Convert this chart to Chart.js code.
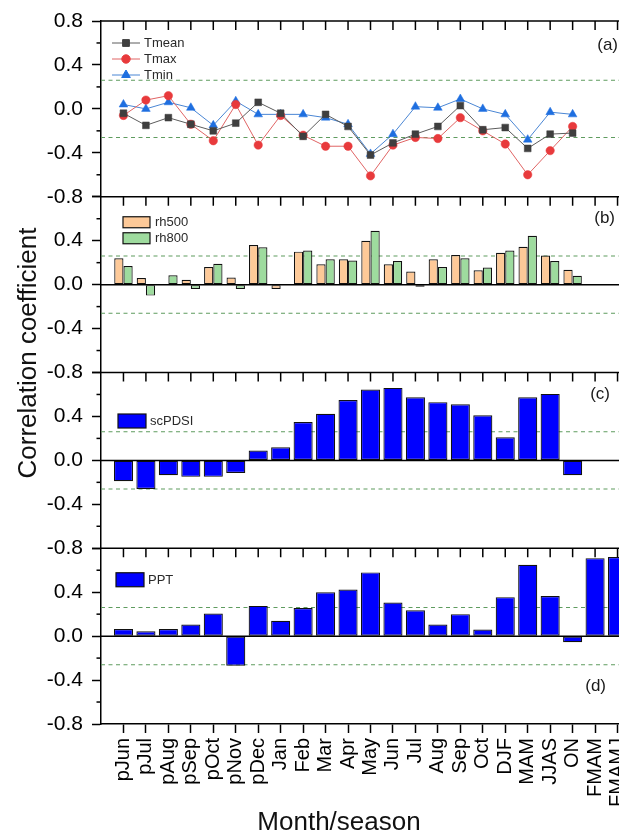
<!DOCTYPE html>
<html><head><meta charset="utf-8">
<script src="https://cdn.jsdelivr.net/npm/chart.js@4.4.1/dist/chart.umd.min.js"></script>
<style>
html,body{margin:0;padding:0;background:#fff;overflow:hidden;}
#wrap{position:relative;width:660px;height:832px;}
</style></head><body>
<div id="wrap"><canvas id="c" width="660" height="832"></canvas></div>
<script>
// ---------------- data ----------------
const categories = ['pJun','pJul','pAug','pSep','pOct','pNov','pDec','Jan','Feb','Mar','Apr','May','Jun','Jul','Aug','Sep','Oct','DJF','MAM','JJAS','ON','FMAM','FMAMJ'];
const tmean  = [-0.04,-0.15,-0.08,-0.14,-0.20,-0.13, 0.06,-0.04,-0.25,-0.05,-0.16,-0.42,-0.31,-0.23,-0.16, 0.03,-0.19,-0.17,-0.36,-0.23,-0.22];
const tmax   = [-0.06, 0.08, 0.12,-0.14,-0.29, 0.04,-0.33,-0.06,-0.24,-0.34,-0.34,-0.61,-0.33,-0.26,-0.27,-0.08,-0.20,-0.32,-0.60,-0.38,-0.16];
const tmin   = [ 0.04, 0.00, 0.06, 0.01,-0.15, 0.07,-0.05,-0.05,-0.05,-0.08,-0.14,-0.41,-0.23, 0.02, 0.01, 0.09, 0.00,-0.05,-0.28,-0.03,-0.05];
const rh500  = [ 0.24, 0.06, 0.00, 0.045,0.16, 0.065,0.36,-0.04, 0.30, 0.185,0.23, 0.40, 0.185,0.12, 0.23, 0.27, 0.13, 0.29, 0.345,0.265,0.135];
const rh800  = [ 0.17,-0.10, 0.085,-0.04,0.19,-0.04, 0.34, 0.00, 0.31, 0.23, 0.22, 0.49, 0.215,-0.02,0.16, 0.24, 0.155,0.31, 0.445,0.215,0.08];
const scpdsi = [-0.19,-0.26,-0.135,-0.15,-0.15,-0.115,0.09,0.12, 0.35, 0.425,0.55, 0.645,0.66, 0.575,0.53, 0.51, 0.41, 0.21, 0.575,0.605,-0.135];
const ppt    = [ 0.065,0.045,0.065,0.105,0.205,-0.27,0.275,0.14, 0.255,0.40, 0.425,0.58, 0.305,0.235,0.105,0.20, 0.06, 0.355,0.65, 0.365,-0.055,0.71,0.72];
const yMin = -0.8, yMax = 0.8, yStep = 0.4;
const significance = 0.26;
const panelLabels = ['(a)','(b)','(c)','(d)'];
const yTitle = 'Correlation coefficient';
const xTitle = 'Month/season';

// ---------------- styling ----------------
const FONT = '"Liberation Sans", Arial, Helvetica, sans-serif';
const panelIds = ['ya','yb','yc','yd'];
const pts = arr => arr.map((v, i) => ({x: i, y: v}));

function yScale(k) {
  return {
    type: 'linear', position: 'left', stack: 'panels', stackWeight: 1, weight: 10 - k,
    min: yMin, max: yMax, offset: false,
    afterFit: s => { s.width = 101; s.paddingTop = 0; s.paddingBottom = 0; },
    border: {display: true, color: '#000', width: 1.5},
    grid: {drawOnChartArea: false, drawTicks: true, tickLength: 9, tickWidth: 1.5, tickColor: '#000', offset: false},
    ticks: {
      stepSize: yStep, autoSkip: false, padding: 9, color: '#000',
      font: {family: FONT, size: 21},
      callback: v => {
        if (k > 0 && v > yMax - 1e-6) return '';
        const r = Math.round(v * 10) / 10;
        return r === 0 ? '0.0' : r.toFixed(1);
      }
    }
  };
}

const barBase = {type: 'bar', xAxisID: 'x', borderColor: '#111', borderWidth: 1.2, borderSkipped: false, barPercentage: 1};

const datasets = [
  {type: 'line', label: 'Tmean', data: pts(tmean), xAxisID: 'x', yAxisID: 'ya',
   borderColor: '#5c5c5c', borderWidth: 1, pointStyle: 'rect', pointRadius: 4.8,
   pointBackgroundColor: '#3f3f3f', pointBorderColor: '#3f3f3f', pointBorderWidth: 0.5, tension: 0},
  {type: 'line', label: 'Tmax', data: pts(tmax), xAxisID: 'x', yAxisID: 'ya',
   borderColor: '#e06464', borderWidth: 1, pointStyle: 'circle', pointRadius: 4.2,
   pointBackgroundColor: '#e83a3c', pointBorderColor: '#e83a3c', pointBorderWidth: 0.5, tension: 0},
  {type: 'line', label: 'Tmin', data: pts(tmin), xAxisID: 'x', yAxisID: 'ya',
   borderColor: '#4a86d4', borderWidth: 1, pointStyle: 'triangle', pointRadius: 5,
   pointBackgroundColor: '#1f6fe0', pointBorderColor: '#1f6fe0', pointBorderWidth: 0.5, tension: 0},
  Object.assign({}, barBase, {label: 'rh500', data: pts(rh500), yAxisID: 'yb',
   backgroundColor: '#fdc998', categoryPercentage: 0.82, grouped: true}),
  Object.assign({}, barBase, {label: 'rh800', data: pts(rh800), yAxisID: 'yb',
   backgroundColor: '#9edb9e', categoryPercentage: 0.82, grouped: true}),
  Object.assign({}, barBase, {label: 'scPDSI', data: pts(scpdsi), yAxisID: 'yc',
   backgroundColor: '#0000ff', categoryPercentage: 0.85, grouped: false}),
  Object.assign({}, barBase, {label: 'PPT', data: pts(ppt), yAxisID: 'yd',
   backgroundColor: '#0000ff', categoryPercentage: 0.85, grouped: false})
];

// legend / label placement per panel (offsets from panel top)
const panelDeco = [
  {labelX: 618, labelDy: 24, legend: {kind: 'line', x: 112, dy: 22, row: 16, text: 144, items: ['Tmean','Tmax','Tmin']}},
  {labelX: 615, labelDy: 22, legend: {kind: 'box', x: 123, dy: 25.5, row: 16, w: 27, h: 11, text: 155, items: ['rh500','rh800']}},
  {labelX: 610, labelDy: 22, legend: {kind: 'box', x: 118, dy: 48.5, row: 16, w: 28, h: 14, text: 150, items: ['scPDSI']}},
  {labelX: 606, labelDy: 138, legend: {kind: 'box', x: 116, dy: 31.5, row: 16, w: 28, h: 14, text: 148, items: ['PPT']}}
];

const decor = {
  id: 'decor',
  beforeDatasetsDraw(chart) {
    const {ctx, chartArea: ca} = chart;
    ctx.save();
    ctx.strokeStyle = '#5f9c5f'; ctx.lineWidth = 1.1; ctx.setLineDash([4, 3.5]);
    panelIds.forEach(id => {
      const s = chart.scales[id];
      [significance, -significance].forEach(v => {
        const y = s.getPixelForValue(v);
        ctx.beginPath(); ctx.moveTo(ca.left, y); ctx.lineTo(ca.right, y); ctx.stroke();
      });
    });
    ctx.restore();
  },
  afterDatasetsDraw(chart) {
    const {ctx, chartArea: ca} = chart;
    const xs = chart.scales.x;
    ctx.save();
    ctx.setLineDash([]); ctx.strokeStyle = '#000';
    ctx.lineWidth = 1.5;
    ['yb','yc','yd'].forEach(id => {
      const y = chart.scales[id].getPixelForValue(0);
      ctx.beginPath(); ctx.moveTo(ca.left, y); ctx.lineTo(ca.right, y); ctx.stroke();
    });
    panelIds.forEach((id, k) => {
      const s = chart.scales[id];
      ctx.lineWidth = 1.6;
      ctx.beginPath(); ctx.moveTo(ca.left - 0.75, s.top); ctx.lineTo(ca.right, s.top); ctx.stroke();
      ctx.lineWidth = 1.5;
      for (let i = 0; i < categories.length; i++) {
        const x = xs.getPixelForValue(i);
        ctx.beginPath(); ctx.moveTo(x, s.top); ctx.lineTo(x, s.top + 9); ctx.stroke();
      }
      const t = s.ticks;
      for (let j = 0; j < t.length - 1; j++) {
        const y = s.getPixelForValue((t[j].value + t[j + 1].value) / 2);
        ctx.beginPath(); ctx.moveTo(ca.left - 4.5, y); ctx.lineTo(ca.left, y); ctx.stroke();
      }
    });
    ctx.restore();
  },
  afterDraw(chart) {
    const {ctx} = chart;
    ctx.save();
    panelIds.forEach((id, k) => {
      const s = chart.scales[id];
      const d = panelDeco[k];
      ctx.fillStyle = '#1a1a1a';
      ctx.font = '17px ' + FONT;
      ctx.textAlign = 'right'; ctx.textBaseline = 'middle';
      ctx.fillText(panelLabels[k], d.labelX, s.top + d.labelDy);
      const L = d.legend;
      L.items.forEach((name, r) => {
        const ds = chart.data.datasets.find(q => q.label === name);
        const y = s.top + L.dy + r * L.row;
        if (L.kind === 'line') {
          ctx.strokeStyle = ds.borderColor; ctx.lineWidth = 1;
          ctx.beginPath(); ctx.moveTo(L.x, y); ctx.lineTo(L.x + 28, y); ctx.stroke();
          ctx.fillStyle = ds.pointBackgroundColor; ctx.strokeStyle = ds.pointBorderColor;
          Chart.helpers.drawPoint(ctx, {pointStyle: ds.pointStyle, radius: ds.pointRadius, rotation: 0, borderWidth: 0.5}, L.x + 14, y);
        } else {
          ctx.fillStyle = ds.backgroundColor;
          ctx.fillRect(L.x, y - L.h / 2, L.w, L.h);
          ctx.strokeStyle = '#111'; ctx.lineWidth = 1.2;
          ctx.strokeRect(L.x, y - L.h / 2, L.w, L.h);
        }
        ctx.fillStyle = '#2a2a2a';
        ctx.font = '13px ' + FONT;
        ctx.textAlign = 'left'; ctx.textBaseline = 'middle';
        ctx.fillText(name, L.text, y + 0.5);
      });
    });
    ctx.fillStyle = '#111';
    ctx.font = '26px ' + FONT;
    ctx.textAlign = 'center'; ctx.textBaseline = 'alphabetic';
    ctx.fillText(xTitle, 339, 830);
    ctx.translate(36, 353);
    ctx.rotate(-Math.PI / 2);
    ctx.fillText(yTitle, 0, 0);
    ctx.restore();
  }
};

new Chart(document.getElementById('c'), {
  data: {datasets},
  options: {
    responsive: false, animation: false, events: [],
    layout: {padding: {top: 21, right: 20, left: 0, bottom: 0}},
    plugins: {legend: {display: false}, tooltip: {enabled: false}},
    scales: {
      x: {
        type: 'linear', position: 'bottom', min: -1, max: categories.length, offset: false,
        afterFit: s => { s.height = 108; s.paddingLeft = 0; s.paddingRight = 0; },
        border: {display: true, color: '#000', width: 1.5},
        grid: {offset: false, drawOnChartArea: false, drawTicks: true, tickLength: 9, tickWidth: 1.5,
               tickColor: c => (c.tick && c.tick.value >= 0 && c.tick.value < categories.length) ? '#000' : 'rgba(0,0,0,0)'},
        ticks: {stepSize: 1, autoSkip: false, minRotation: 90, maxRotation: 90, padding: 5, color: '#000',
                font: {family: FONT, size: 20},
                callback: v => { const i = Math.round(v); return (i >= 0 && i < categories.length) ? categories[i] : ''; }}
      },
      ya: yScale(0), yb: yScale(1), yc: yScale(2), yd: yScale(3)
    }
  },
  plugins: [decor]
});
</script>
</body></html>
